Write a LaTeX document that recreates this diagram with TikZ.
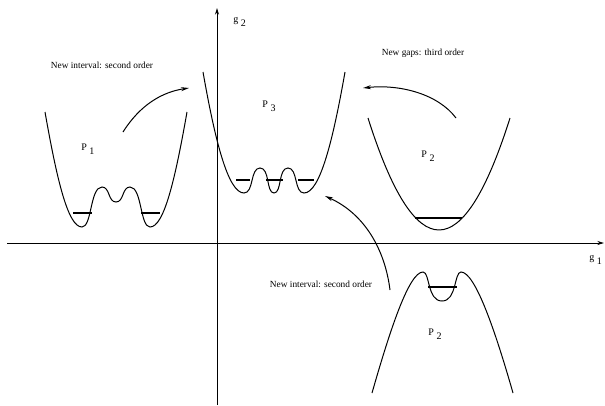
\documentclass[tikz,border=0pt]{standalone}
\usepackage{fontspec}
\setmainfont{Liberation Serif}
\usetikzlibrary{arrows.meta}
\begin{document}
\begin{tikzpicture}[x=0.75pt,y=-0.75pt,
  curve/.style={line width=0.75pt},
  level/.style={line width=1.4pt},
  axis/.style={line width=0.75pt,-{Stealth[length=5pt,width=3pt]}},
  flow/.style={line width=0.75pt,-{Stealth[length=6pt,width=3pt]}},
  lbl/.style={inner sep=0pt,font=\fontsize{7}{8}\selectfont},
  plbl/.style={inner sep=0pt,font=\fontsize{7.5}{9}\selectfont,anchor=base west}]
\useasboundingbox (0,0) rectangle (605,405);
% axes
\coordinate (xs) at (7,243);
\coordinate (xe) at (604,243);
\coordinate (ys) at (217,405);
\coordinate (ye) at (217,8);
\draw[axis] (xs) -- (xe);
\draw[axis] (ys) -- (ye);
\node[plbl] (g2) at (233,22) {g\hspace{2pt}\raisebox{-3pt}{2}};
\node[plbl] (g1) at (589,260) {g\hspace{2pt}\raisebox{-3pt}{1}};
% P1 well
\draw[curve] (45,112) .. controls (57,180) and (68,227) .. (82,227)
  .. controls (92,227) and (90,187) .. (102,187)
  .. controls (110,187) and (108,202) .. (116,202)
  .. controls (124,202) and (122,187) .. (130,187)
  .. controls (142,187) and (140,227) .. (150,227)
  .. controls (164,227) and (175,180) .. (187,112);
\draw[level] (73,213) -- (92,213);
\draw[level] (141,213) -- (160,213);
\node[plbl] (p1) at (81,150) {P\hspace{2pt}\raisebox{-3pt}{1}};
% P3 well
\draw[curve] (203,72) .. controls (215,140) and (228,193) .. (244,193)
  .. controls (254,193) and (250,168) .. (260,168)
  .. controls (270,168) and (266,193) .. (274,193)
  .. controls (282,193) and (278,168) .. (288,168)
  .. controls (298,168) and (294,193) .. (304,193)
  .. controls (320,193) and (333,140) .. (345,72);
\draw[level] (236,180) -- (250,180);
\draw[level] (266,180) -- (283,180);
\draw[level] (298,180) -- (314,180);
\node[plbl] (p3) at (262,107) {P\hspace{2pt}\raisebox{-3pt}{3}};
% P2 right well
\draw[curve] (368,118) .. controls (415.3,267.3) and (462.7,267.3) .. (510,118);
\draw[level] (415,218) -- (462,218);
\node[plbl] (p2a) at (421,157) {P\hspace{2pt}\raisebox{-3pt}{2}};
% P2 bottom (inverted)
\draw[curve] (372,393) .. controls (390,330) and (409,272) .. (423,272)
  .. controls (430,272) and (427,301) .. (442,301)
  .. controls (457,301) and (454,272) .. (461,272)
  .. controls (475,272) and (495,330) .. (513,393);
\draw[level] (428,287) -- (457,287);
\node[plbl] (p2b) at (428,335) {P\hspace{2pt}\raisebox{-3pt}{2}};
% texts
\node[lbl] (t1) at (102,65) {New interval: second order};
\node[lbl] (t2) at (423,53) {New gaps: third order};
\node[lbl] (t3) at (321,284) {New interval: second order};
% arrows
\coordinate (a1s) at (123,132);
\coordinate (a1e) at (189,88);
\coordinate (a2s) at (456,118);
\coordinate (a2e) at (363,88);
\coordinate (a3s) at (390,290);
\coordinate (a3e) at (325,196);
\draw[flow] (a1s) .. controls (140,105) and (162,92) .. (a1e);
\draw[flow] (a2s) .. controls (438,94) and (400,84) .. (a2e);
\draw[flow] (a3s) .. controls (385,250) and (365,214) .. (a3e);
\end{tikzpicture}
\end{document}
